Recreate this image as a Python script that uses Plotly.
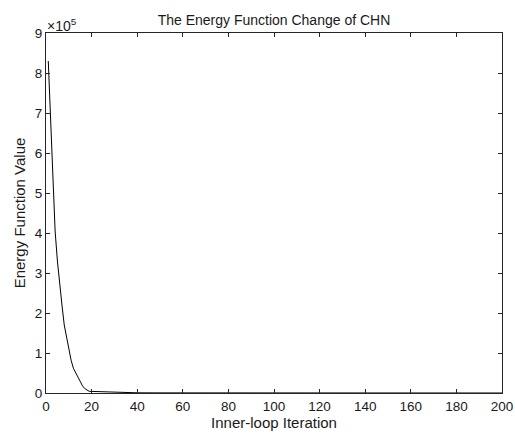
import plotly.graph_objects as go

# Inner-loop iteration numbers and energy function values (units of 1e5)
iterations = [1, 2, 3, 4, 5, 6, 7, 8, 9, 10, 11, 12, 13, 14, 15, 16, 17, 18, 19, 20,
              22, 25, 30, 35, 40, 50, 60, 80, 100, 120, 140, 160, 180, 200]
energy = [8.30, 6.90, 5.40, 4.05, 3.30, 2.70, 2.20, 1.70, 1.40, 1.10, 0.82, 0.62, 0.50, 0.38,
          0.27, 0.18, 0.11, 0.07, 0.04, 0.04, 0.035, 0.03, 0.02, 0.01, 0.005, 0.003, 0.002,
          0.001, 0.0, 0.0, 0.0, 0.0, 0.0, 0.0]

x_ticks = [0, 20, 40, 60, 80, 100, 120, 140, 160, 180, 200]
y_ticks = [0, 1, 2, 3, 4, 5, 6, 7, 8, 9]

font_family = "Liberation Sans, Arial, Helvetica, sans-serif"
axis_color = "#262626"
text_color = "#1a1a1a"

fig = go.Figure()
fig.add_trace(go.Scatter(x=iterations, y=energy, mode="lines",
                         line=dict(color="black", width=1), showlegend=False))

axis_common = dict(showline=True, linecolor=axis_color, linewidth=1, mirror="ticks",
                   ticks="inside", ticklen=4, tickcolor=axis_color, tickwidth=1,
                   showgrid=False, zeroline=False, automargin=False,
                   tickfont=dict(family=font_family, size=13.5, color=text_color))

fig.update_layout(
    width=515, height=436,
    margin=dict(l=46, r=13, t=33, b=43),
    paper_bgcolor="white", plot_bgcolor="white",
    title=dict(text="The Energy Function Change of CHN", x=0.532, xanchor="center",
               yref="container", y=1 - 20 / 436, yanchor="middle",
               font=dict(family=font_family, size=14, color=text_color)),
    xaxis=dict(range=[0, 200], tickvals=x_ticks, ticktext=[str(v) for v in x_ticks],
               ticklabelstandoff=1,
               title=dict(text="Inner-loop Iteration", standoff=2,
                          font=dict(family=font_family, size=15, color=text_color)),
               **axis_common),
    yaxis=dict(range=[0, 9], tickvals=y_ticks, ticktext=[str(v) for v in y_ticks],
               title=dict(text="Energy Function Value", standoff=5,
                          font=dict(family=font_family, size=15, color=text_color)),
               **axis_common),
    annotations=[dict(text="×10<sup>5</sup>", xref="paper", yref="paper", x=0, y=1,
                      xanchor="left", yanchor="bottom", showarrow=False, xshift=-1,
                      yshift=-3,
                      font=dict(family=font_family, size=14, color=text_color))],
)

fig.write_html("out.html", config={"displayModeBar": False},
               post_script="document.body.style.margin='0';")
